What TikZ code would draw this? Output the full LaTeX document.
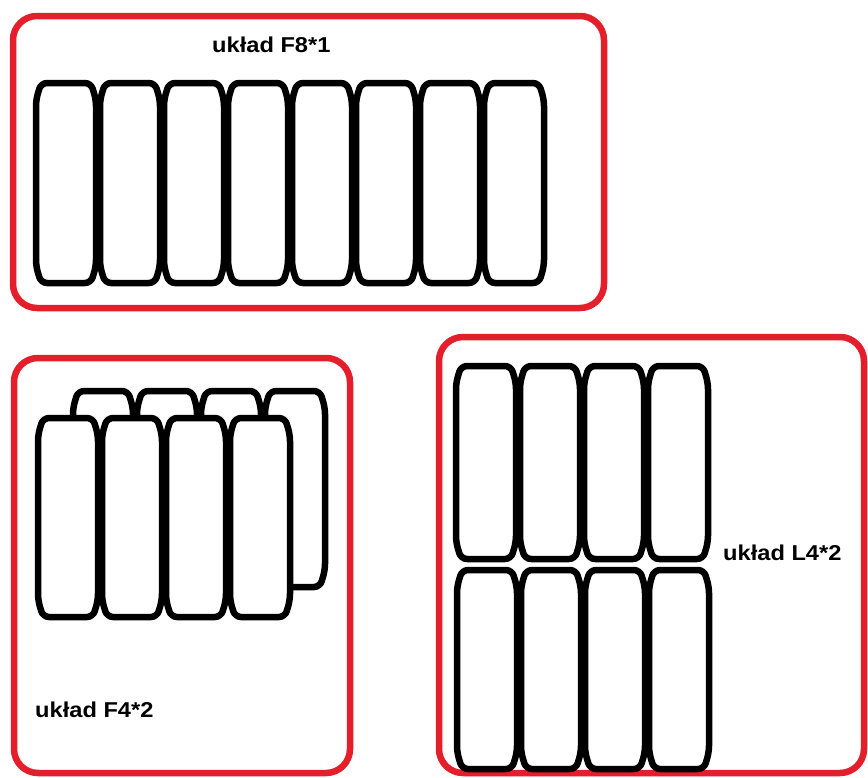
\documentclass[tikz,border=0pt]{standalone}
\usepackage{fontspec}
\newfontfamily\labfont{Liberation Sans}
\definecolor{boxred}{RGB}{228,30,42}
\tikzset{
  frame/.style={draw=boxred, line width=6.5pt, rounded corners=24pt},
  tyreline/.style={draw=black, fill=white, line width=6.5pt, rounded corners=6pt, line join=round},
  lab/.style={font=\labfont\bfseries\fontsize{21.5}{21.5}\selectfont, inner sep=0pt, anchor=base west}
}
\newcommand\tyre[3]{%
  \draw[tyreline, shift={(#1,#2)}] (5,0) -- (55,0) -- (60,17) -- (60,#3-17) -- (55,#3) -- (5,#3) -- (0,#3-17) -- (0,17) -- cycle;}
\begin{document}
\begin{tikzpicture}[x=1pt,y=-1pt]
\useasboundingbox[fill=white] (0,0) rectangle (868,777);
% frames
\draw[frame] (13,16) rectangle (604,308);
\draw[frame] (14,358) rectangle (350,773);
\draw[frame] (439,337) rectangle (864,773);
% F8*1
\foreach \i in {0,...,7} {\tyre{36+64*\i}{83}{200}}
\node[lab] (f81) at (212,52) {\scalebox{1.1}[1]{układ F8*1}};
% F4*2 back row then front row
\foreach \i in {0,...,3} {\tyre{73+64*\i}{391}{196}}
\foreach \i in {0,...,3} {\tyre{38+64*\i}{418}{199}}
\node[lab] (f42) at (35,717) {\scalebox{1.1}[1]{układ F4*2}};
% L4*2
\foreach \i in {0,...,3} {\tyre{456+64*\i}{366}{193}}
\foreach \i in {0,...,3} {\tyre{457+64*\i}{570}{199}}
\node[lab] (l42) at (723,560) {\scalebox{1.1}[1]{układ L4*2}};
\end{tikzpicture}
\end{document}
